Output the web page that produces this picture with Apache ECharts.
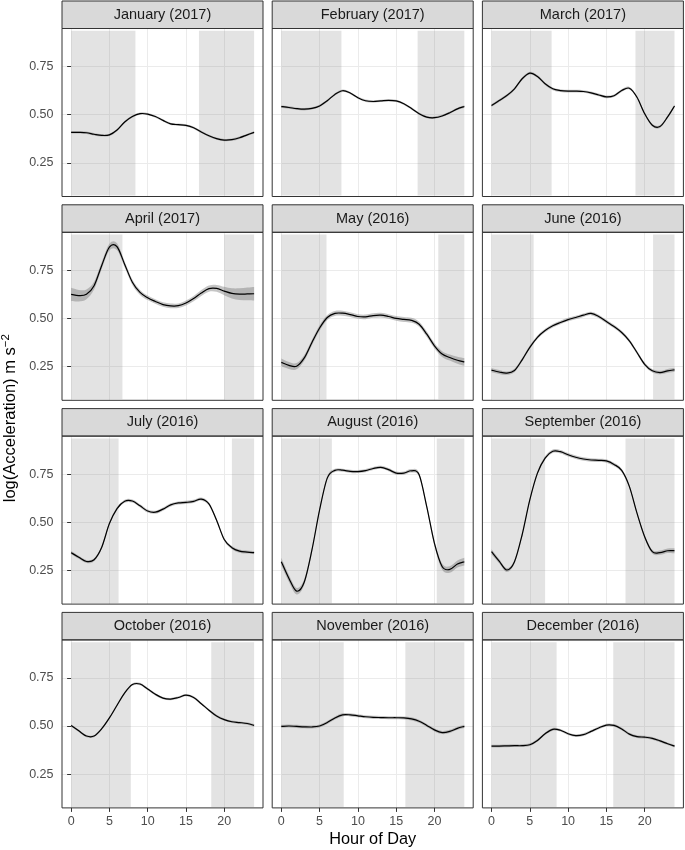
<!DOCTYPE html>
<html><head><meta charset="utf-8">
<script src="https://cdn.jsdelivr.net/npm/echarts@6/dist/echarts.min.js"></script>
<style>html,body{margin:0;padding:0;background:#fff}#c{width:685px;height:850px}</style>
</head><body><div id="c"></div>
<script>
// ---------- data ----------
const hours = [0,1,2,3,4,5,6,7,8,9,10,11,12,13,14,15,16,17,18,19,20,21,22,23,23.9];
const panelTitles = ['January (2017)','February (2017)','March (2017)','April (2017)','May (2016)','June (2016)','July (2016)','August (2016)','September (2016)','October (2016)','November (2016)','December (2016)'];
const xTicks = [0,5,10,15,20];
const yTicks = [0.25,0.5,0.75];

const accJan = [0.408,0.408,0.406,0.398,0.392,0.395,0.420,0.462,0.490,0.505,0.503,0.490,0.470,0.452,0.448,0.444,0.432,0.410,0.390,0.375,0.368,0.370,0.380,0.395,0.408];
const accFeb = [0.542,0.537,0.531,0.528,0.532,0.545,0.572,0.605,0.624,0.612,0.588,0.572,0.568,0.571,0.574,0.571,0.556,0.532,0.505,0.487,0.484,0.493,0.510,0.530,0.542];
const accMar = [0.547,0.573,0.599,0.634,0.686,0.715,0.698,0.660,0.634,0.625,0.622,0.622,0.620,0.613,0.602,0.592,0.598,0.625,0.637,0.590,0.505,0.445,0.438,0.488,0.545];
const accApr = [0.625,0.618,0.625,0.670,0.775,0.870,0.872,0.780,0.688,0.635,0.607,0.588,0.572,0.565,0.566,0.580,0.603,0.632,0.655,0.656,0.642,0.630,0.626,0.627,0.628];
const accMay = [0.272,0.256,0.252,0.295,0.375,0.450,0.505,0.526,0.527,0.520,0.510,0.508,0.515,0.517,0.510,0.500,0.495,0.490,0.470,0.418,0.358,0.315,0.297,0.283,0.274];
const accJun = [0.232,0.222,0.216,0.230,0.285,0.350,0.402,0.437,0.462,0.479,0.494,0.505,0.517,0.526,0.510,0.484,0.458,0.427,0.384,0.323,0.262,0.228,0.219,0.228,0.233];
const accJul = [0.342,0.318,0.296,0.305,0.370,0.493,0.571,0.609,0.610,0.585,0.558,0.552,0.568,0.590,0.600,0.603,0.608,0.620,0.595,0.510,0.410,0.368,0.350,0.345,0.342];
const accAug = [0.295,0.208,0.142,0.190,0.356,0.564,0.729,0.769,0.770,0.764,0.763,0.768,0.779,0.785,0.773,0.755,0.755,0.767,0.746,0.580,0.390,0.270,0.255,0.283,0.295];
const accSep = [0.347,0.298,0.252,0.295,0.435,0.616,0.755,0.833,0.868,0.866,0.850,0.837,0.828,0.823,0.821,0.818,0.800,0.769,0.686,0.547,0.425,0.347,0.342,0.352,0.352];
const accOct = [0.503,0.475,0.448,0.448,0.486,0.542,0.608,0.672,0.715,0.718,0.692,0.665,0.645,0.640,0.648,0.660,0.648,0.616,0.582,0.552,0.533,0.522,0.518,0.513,0.503];
const accNov = [0.498,0.500,0.498,0.496,0.495,0.500,0.518,0.542,0.558,0.558,0.553,0.548,0.545,0.544,0.543,0.543,0.542,0.537,0.525,0.503,0.480,0.466,0.472,0.488,0.498];
const accDec = [0.396,0.396,0.397,0.398,0.398,0.403,0.425,0.460,0.483,0.478,0.460,0.450,0.455,0.472,0.490,0.505,0.503,0.485,0.458,0.445,0.442,0.436,0.423,0.408,0.396];

const seJan = [0.006,0.006,0.006,0.006,0.006,0.006,0.006,0.006,0.006,0.006,0.006,0.006,0.006,0.006,0.006,0.006,0.006,0.006,0.006,0.006,0.006,0.006,0.006,0.006,0.006];
const seFeb = [0.006,0.006,0.006,0.006,0.006,0.006,0.006,0.006,0.006,0.006,0.006,0.006,0.006,0.006,0.006,0.006,0.006,0.006,0.006,0.006,0.006,0.006,0.006,0.006,0.006];
const seMar = [0.007,0.007,0.007,0.007,0.007,0.007,0.007,0.007,0.007,0.007,0.007,0.007,0.007,0.007,0.007,0.007,0.007,0.007,0.007,0.007,0.007,0.007,0.007,0.007,0.007];
const seApr = [0.034,0.030,0.025,0.020,0.018,0.018,0.018,0.016,0.014,0.013,0.012,0.012,0.012,0.012,0.012,0.013,0.014,0.015,0.016,0.018,0.022,0.026,0.030,0.033,0.035];
const seMay = [0.020,0.018,0.016,0.015,0.014,0.014,0.013,0.013,0.013,0.012,0.012,0.012,0.012,0.012,0.012,0.012,0.013,0.013,0.013,0.014,0.014,0.015,0.016,0.018,0.020];
const seJun = [0.011,0.010,0.009,0.009,0.009,0.009,0.009,0.009,0.009,0.009,0.009,0.009,0.009,0.009,0.009,0.009,0.009,0.009,0.009,0.009,0.009,0.009,0.009,0.010,0.011];
const seJul = [0.008,0.008,0.008,0.008,0.008,0.008,0.008,0.008,0.008,0.008,0.008,0.008,0.008,0.008,0.008,0.008,0.008,0.008,0.008,0.008,0.008,0.008,0.008,0.008,0.008];
const seAug = [0.020,0.018,0.017,0.015,0.012,0.010,0.009,0.008,0.008,0.008,0.008,0.008,0.008,0.008,0.008,0.008,0.008,0.009,0.010,0.012,0.014,0.016,0.017,0.018,0.020];
const seSep = [0.013,0.011,0.010,0.009,0.009,0.009,0.009,0.009,0.009,0.009,0.009,0.009,0.009,0.009,0.009,0.009,0.009,0.009,0.009,0.009,0.009,0.010,0.011,0.012,0.013];
const seOct = [0.006,0.006,0.006,0.006,0.006,0.006,0.006,0.006,0.006,0.006,0.006,0.006,0.006,0.006,0.006,0.006,0.006,0.006,0.006,0.006,0.006,0.006,0.006,0.006,0.006];
const seNov = [0.008,0.008,0.008,0.008,0.008,0.008,0.008,0.008,0.008,0.008,0.008,0.008,0.008,0.008,0.008,0.008,0.008,0.008,0.008,0.008,0.008,0.008,0.008,0.008,0.008];
const seDec = [0.007,0.007,0.007,0.007,0.007,0.007,0.007,0.007,0.007,0.007,0.007,0.007,0.007,0.007,0.007,0.007,0.007,0.007,0.007,0.007,0.007,0.007,0.007,0.007,0.007];

// night shading: [dayStart, morningEnd] and [eveningStart, dayEnd]
const nightMorningEnd  = [8.4, 7.85, 7.85, 6.7, 5.9, 5.5, 6.2, 6.6, 7.0, 7.8, 8.15, 8.5];
const nightEveningStart = [16.7, 17.8, 18.8, 20.0, 20.5, 21.1, 21.0, 20.3, 17.5, 18.3, 16.2, 15.9];
const dayStart = 0, dayEnd = 23.9;
const shadeLow = 0.08, shadeHigh = 0.935;

const accAll = [accJan,accFeb,accMar,accApr,accMay,accJun,accJul,accAug,accSep,accOct,accNov,accDec];
const seAll = [seJan,seFeb,seMar,seApr,seMay,seJun,seJul,seAug,seSep,seOct,seNov,seDec];

// ---------- layout ----------
const FONT = 'Liberation Sans, Arial, Helvetica, sans-serif';
const X0 = 62, COLSTEP = 210.2, PW = 201;
const Y0 = 1, ROWSTEP = 203.8, STRIPH = 27.5, PH = 168;
const xMin = -1.19, xMax = 25.06, yMin = 0.075, yMax = 0.947;

// smooth (Catmull-Rom) bezier segments through pixel points
function segs(p) {
  let d = '';
  const n = p.length;
  for (let k = 0; k < n - 1; k++) {
    const p0 = p[Math.max(k - 1, 0)], p1 = p[k], p2 = p[k + 1], p3 = p[Math.min(k + 2, n - 1)];
    const c1x = p1[0] + (p2[0] - p0[0]) / 6, c1y = p1[1] + (p2[1] - p0[1]) / 6;
    const c2x = p2[0] - (p3[0] - p1[0]) / 6, c2y = p2[1] - (p3[1] - p1[1]) / 6;
    d += 'C' + c1x.toFixed(2) + ',' + c1y.toFixed(2) + ',' + c2x.toFixed(2) + ',' + c2y.toFixed(2) + ',' + p2[0].toFixed(2) + ',' + p2[1].toFixed(2);
  }
  return d;
}
const mv = (c, p) => c + p[0].toFixed(2) + ',' + p[1].toFixed(2);

const grids = [], xAxes = [], yAxes = [], series = [], graphics = [];
for (let i = 0; i < 12; i++) {
  const r = Math.floor(i / 3), c = i % 3;
  const left = X0 + c * COLSTEP;
  const stripTop = Y0 + r * ROWSTEP;
  const top = stripTop + STRIPH;
  grids.push({left: left, top: top, width: PW, height: PH, show: false, outerBoundsMode: 'none'});
  const bottomRow = r === 3, leftCol = c === 0;
  xAxes.push({
    type: 'value', gridIndex: i, min: xMin, max: xMax,
    axisLine: {show: false},
    axisTick: {show: bottomRow, customValues: xTicks, length: 4, lineStyle: {color: '#333', width: 1}},
    axisLabel: {show: bottomRow, customValues: xTicks, margin: 7, color: '#4d4d4d', fontSize: 12.5, fontFamily: FONT,
      formatter: v => String(Math.round(v))},
    splitLine: {show: true, lineStyle: {color: '#ebebeb', width: 1}}
  });
  yAxes.push({
    type: 'value', gridIndex: i, min: yMin, max: yMax,
    axisLine: {show: false},
    axisTick: {show: leftCol, customValues: yTicks, length: 4, lineStyle: {color: '#333', width: 1}},
    axisLabel: {show: leftCol, customValues: yTicks, margin: 8.5, color: '#4d4d4d', fontSize: 12.5, fontFamily: FONT,
      formatter: v => v.toFixed(2)},
    splitLine: {show: true, lineStyle: {color: '#ebebeb', width: 1}}
  });
  const acc = accAll[i], se = seAll[i];
  const line = hours.map((h, k) => [h, acc[k]]);
  // host for night shading
  series.push({
    type: 'line', xAxisIndex: i, yAxisIndex: i, data: line,
    showSymbol: false, lineStyle: {width: 0, opacity: 0}, silent: true, z: 1,
    markArea: {
      z: 1, silent: true,
      itemStyle: {color: 'rgba(128,128,128,0.22)', borderWidth: 0},
      data: [
        [{xAxis: dayStart, yAxis: shadeLow}, {xAxis: nightMorningEnd[i], yAxis: shadeHigh}],
        [{xAxis: nightEveningStart[i], yAxis: shadeLow}, {xAxis: dayEnd, yAxis: shadeHigh}]
      ]
    }
  });
  // ribbon + smooth line
  series.push({
    type: 'custom', xAxisIndex: i, yAxisIndex: i, data: line, z: 4, silent: true, clip: true,
    renderItem: function (params, api) {
      if (params.dataIndex !== 0) return null;
      const up = hours.map((h, k) => api.coord([h, acc[k] + se[k]]));
      const lo = hours.map((h, k) => api.coord([h, acc[k] - se[k]])).reverse();
      const mid = hours.map((h, k) => api.coord([h, acc[k]]));
      const ribbon = mv('M', up[0]) + segs(up) + mv('L', lo[0]) + segs(lo) + 'Z';
      const curve = mv('M', mid[0]) + segs(mid);
      return {type: 'group', children: [
        {type: 'path', shape: {pathData: ribbon}, style: {fill: 'rgba(110,110,110,0.4)', stroke: null}},
        {type: 'path', shape: {pathData: curve}, style: {fill: null, stroke: '#000', lineWidth: 1.2}}
      ]};
    }
  });
  // strip
  graphics.push({type: 'rect', z: 50, shape: {x: left, y: stripTop, width: PW, height: STRIPH},
    style: {fill: '#d9d9d9', stroke: '#333', lineWidth: 1}});
  graphics.push({type: 'text', z: 51, x: left + PW / 2, y: stripTop + STRIPH / 2,
    style: {text: panelTitles[i], fill: '#1a1a1a', fontSize: 14.5, fontFamily: FONT, textAlign: 'center', textVerticalAlign: 'middle'}});
  // panel border
  graphics.push({type: 'rect', z: 60, shape: {x: left, y: top, width: PW, height: PH},
    style: {fill: 'none', stroke: '#333', lineWidth: 1}});
}
// axis titles
graphics.push({type: 'text', z: 70, x: X0 + (2 * COLSTEP + PW) / 2, y: 840,
  style: {text: 'Hour of Day', fill: '#000', fontSize: 16.3, fontFamily: FONT, textAlign: 'center', textVerticalAlign: 'middle'}});
graphics.push({type: 'text', z: 70, x: 10.5, y: Y0 + STRIPH + (3 * ROWSTEP + PH) / 2, rotation: Math.PI / 2,
  style: {text: '{a|log(Acceleration) m s}{b|\u22122}', textAlign: 'center', textVerticalAlign: 'middle',
    rich: {
      a: {fontSize: 16.5, fontFamily: FONT, fill: '#000', lineHeight: 20},
      b: {fontSize: 11.5, fontFamily: FONT, fill: '#000', lineHeight: 11, padding: [0, 0, 9, 0]}
    }}});

const chart = echarts.init(document.getElementById('c'), null, {renderer: 'canvas'});
chart.setOption({
  animation: false,
  backgroundColor: '#fff',
  grid: grids, xAxis: xAxes, yAxis: yAxes, series: series, graphic: graphics
});
</script></body></html>
